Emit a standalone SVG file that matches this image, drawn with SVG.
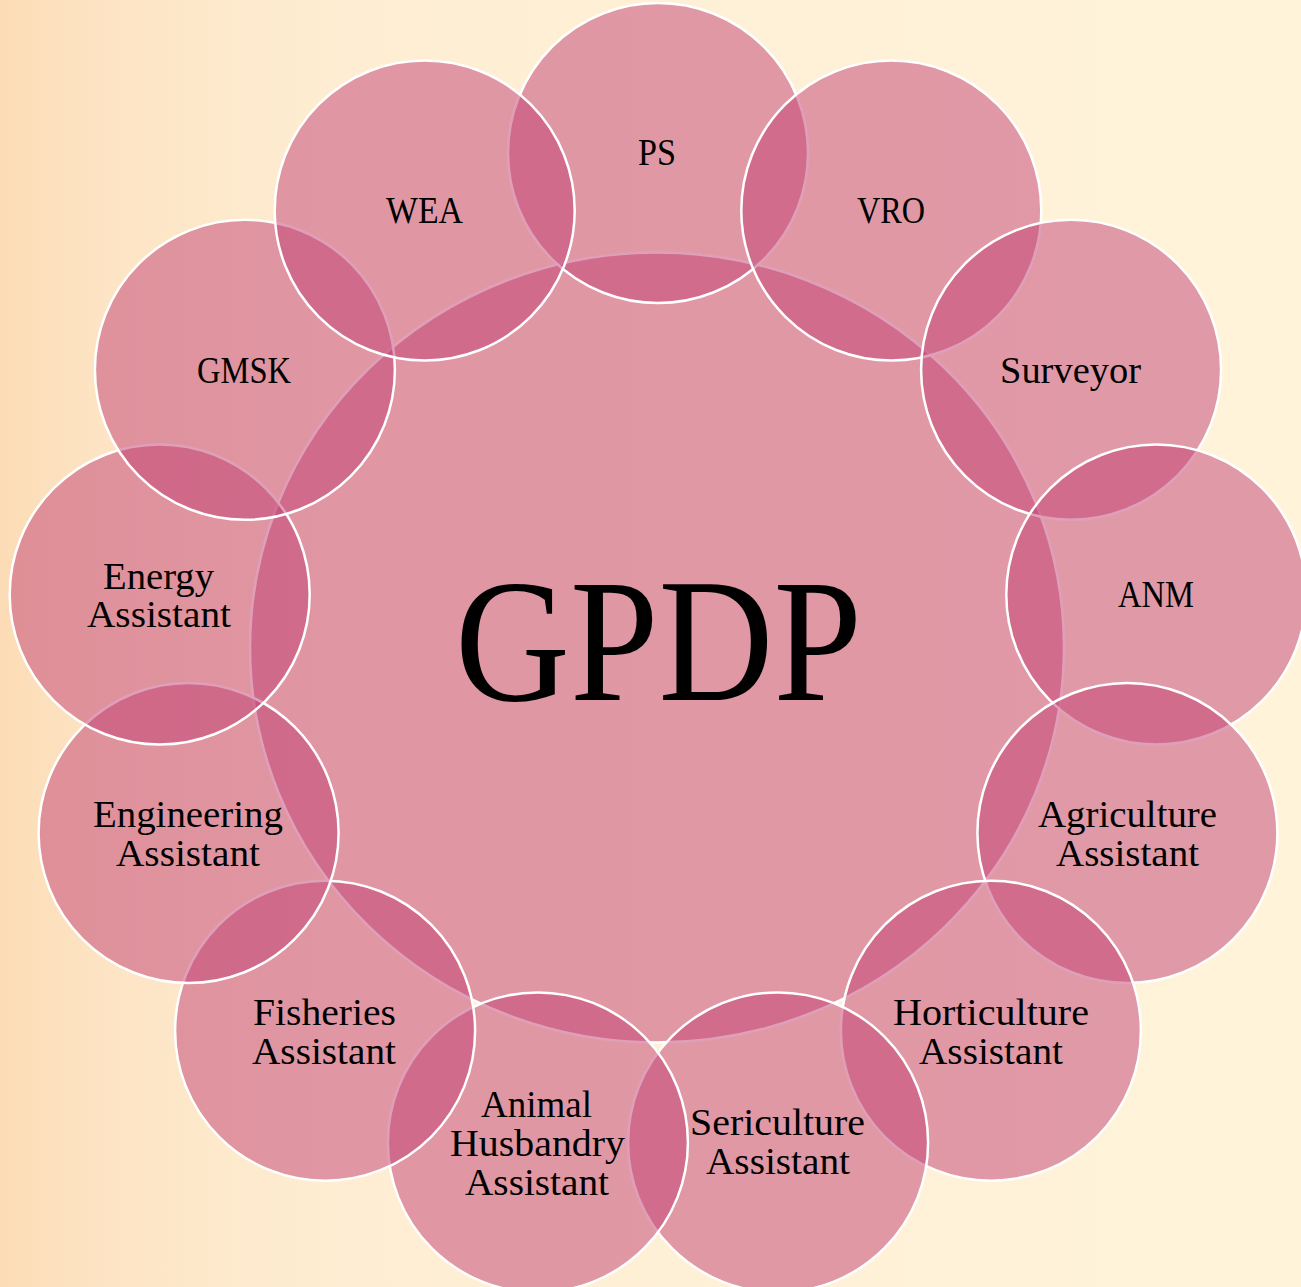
<svg xmlns="http://www.w3.org/2000/svg" width="1301" height="1287" viewBox="0 0 1301 1287">
<defs>
<linearGradient id="bg" x1="0" y1="0" x2="1" y2="0">
<stop offset="0" stop-color="#FCDCB6"/>
<stop offset="0.08" stop-color="#FDE4C4"/>
<stop offset="0.25" stop-color="#FEEDD2"/>
<stop offset="0.5" stop-color="#FEF0D6"/>
<stop offset="1" stop-color="#FFF3DA"/>
</linearGradient>
<style>
.c{fill:#C24074;fill-opacity:0.5;stroke:#FFFFFF;stroke-width:2.5}
.t{font-family:"Liberation Serif","Times New Roman",serif;font-size:37px;fill:#000000;text-anchor:middle}
.big{font-family:"Liberation Serif","Times New Roman",serif;font-size:176px;fill:#000000;text-anchor:middle}
</style>
</defs>
<rect x="0" y="0" width="1301" height="1287" fill="url(#bg)"/>
<g id="connectors"></g>
<g id="gpdp">
<ellipse class="c" cx="657" cy="647.5" rx="407" ry="395"/>
<text class="big" x="658.5" y="700" textLength="407" lengthAdjust="spacingAndGlyphs">GPDP</text>
</g>
<g id="ps">
<circle class="c" cx="658" cy="153" r="150"/>
<text class="t" x="657" y="165" textLength="38" lengthAdjust="spacingAndGlyphs">PS</text>
</g>
<g id="vro">
<circle class="c" cx="891.3" cy="210.5" r="150"/>
<text class="t" x="891" y="223" textLength="68" lengthAdjust="spacingAndGlyphs">VRO</text>
</g>
<g id="surveyor">
<circle class="c" cx="1071.1" cy="369.8" r="150"/>
<text class="t" x="1070.5" y="383" textLength="141" lengthAdjust="spacingAndGlyphs">Surveyor</text>
</g>
<g id="anm">
<circle class="c" cx="1156.3" cy="594.5" r="150"/>
<text class="t" x="1156" y="607" textLength="76" lengthAdjust="spacingAndGlyphs">ANM</text>
</g>
<g id="agriculture">
<circle class="c" cx="1127.4" cy="833" r="150"/>
<text class="t" x="1127.5" y="827" textLength="179" lengthAdjust="spacingAndGlyphs">Agriculture</text>
<text class="t" x="1127.5" y="866" textLength="143" lengthAdjust="spacingAndGlyphs">Assistant</text>
</g>
<g id="horticulture">
<circle class="c" cx="990.9" cy="1030.7" r="150"/>
<text class="t" x="991" y="1025" textLength="196" lengthAdjust="spacingAndGlyphs">Horticulture</text>
<text class="t" x="991" y="1064" textLength="144" lengthAdjust="spacingAndGlyphs">Assistant</text>
</g>
<g id="sericulture">
<circle class="c" cx="778.1" cy="1142.4" r="150"/>
<text class="t" x="777.5" y="1135" textLength="175" lengthAdjust="spacingAndGlyphs">Sericulture</text>
<text class="t" x="778" y="1174" textLength="144" lengthAdjust="spacingAndGlyphs">Assistant</text>
</g>
<g id="animal">
<circle class="c" cx="537.9" cy="1142.4" r="150"/>
<text class="t" x="536.5" y="1117" textLength="111" lengthAdjust="spacingAndGlyphs">Animal</text>
<text class="t" x="537.5" y="1156" textLength="175" lengthAdjust="spacingAndGlyphs">Husbandry</text>
<text class="t" x="537" y="1195" textLength="144" lengthAdjust="spacingAndGlyphs">Assistant</text>
</g>
<g id="fisheries">
<circle class="c" cx="325.1" cy="1030.7" r="150"/>
<text class="t" x="324.5" y="1025" textLength="143" lengthAdjust="spacingAndGlyphs">Fisheries</text>
<text class="t" x="324" y="1064" textLength="144" lengthAdjust="spacingAndGlyphs">Assistant</text>
</g>
<g id="engineering">
<circle class="c" cx="188.6" cy="833" r="150"/>
<text class="t" x="188" y="827" textLength="190" lengthAdjust="spacingAndGlyphs">Engineering</text>
<text class="t" x="188" y="866" textLength="144" lengthAdjust="spacingAndGlyphs">Assistant</text>
</g>
<g id="energy">
<circle class="c" cx="159.7" cy="594.5" r="150"/>
<text class="t" x="158.5" y="589" textLength="111" lengthAdjust="spacingAndGlyphs">Energy</text>
<text class="t" x="159" y="627" textLength="144" lengthAdjust="spacingAndGlyphs">Assistant</text>
</g>
<g id="gmsk">
<circle class="c" cx="244.9" cy="369.8" r="150"/>
<text class="t" x="244" y="383" textLength="94" lengthAdjust="spacingAndGlyphs">GMSK</text>
</g>
<g id="wea">
<circle class="c" cx="424.7" cy="210.5" r="150"/>
<text class="t" x="424.5" y="223" textLength="77" lengthAdjust="spacingAndGlyphs">WEA</text>
</g>
</svg>
